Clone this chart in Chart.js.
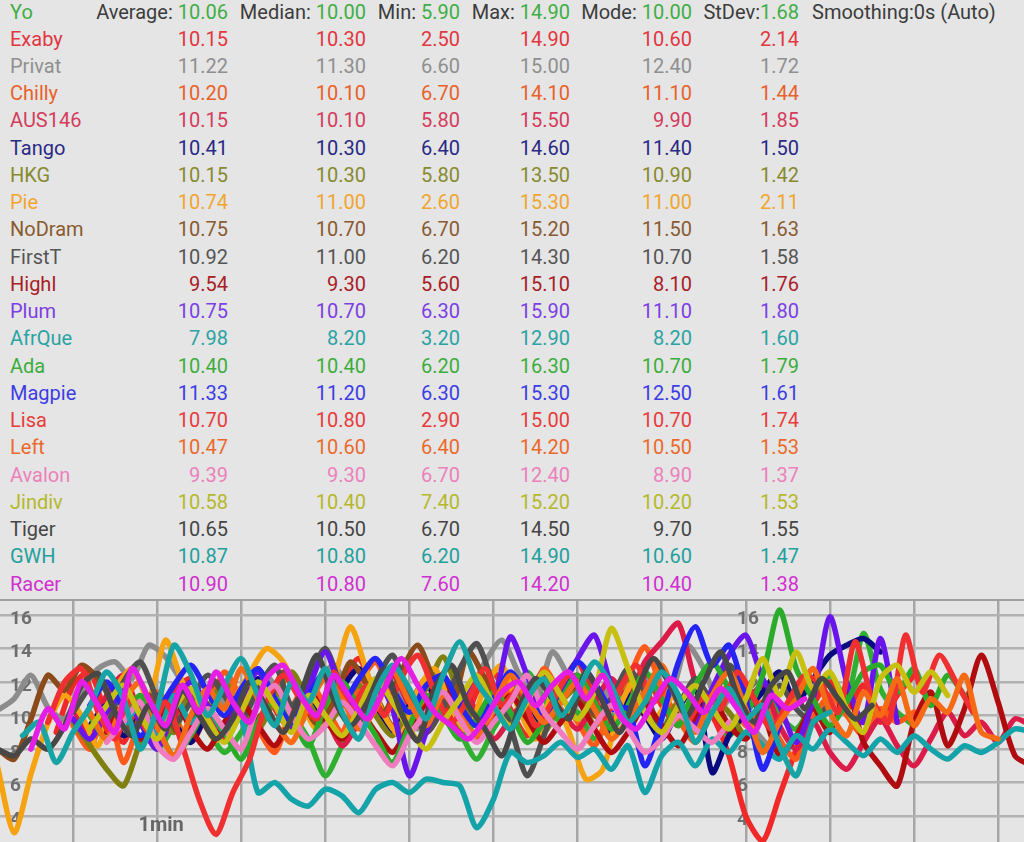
<!DOCTYPE html>
<html lang="en">
<head>
  <meta charset="UTF-8" />
  <title>Lap stats</title>
  <script src="https://cdn.jsdelivr.net/npm/chart.js"></script>
  <style>
    html, body { margin: 0; padding: 0; }
    body { width: 1024px; height: 842px; background: #e5e5e5; overflow: hidden; position: relative;
           font-family: Roboto, "Noto Sans", sans-serif; font-size: 20px; }
    .cell { position: absolute; height: 27px; line-height: 27px; white-space: nowrap; }
    .r { text-align: right; }
    .lbl { color: #3c3c3c; }
    #chartBox { position: absolute; left: 0; top: 599px; width: 1024px; height: 241px; border-top: 2px solid #9e9e9e; }
  </style>
</head>
<body>
  <div id="table"></div>
  <div id="chartBox"><canvas id="lapChart"></canvas></div>

  <script>
    // table values
    const names   = ["Exaby","Privat","Chilly","AUS146","Tango","HKG","Pie","NoDram","FirstT","Highl","Plum","AfrQue","Ada","Magpie","Lisa","Left","Avalon","Jindiv","Tiger","GWH","Racer"];
    const avgs    = ["10.15","11.22","10.20","10.15","10.41","10.15","10.74","10.75","10.92","9.54","10.75","7.98","10.40","11.33","10.70","10.47","9.39","10.58","10.65","10.87","10.90"];
    const medians = ["10.30","11.30","10.10","10.10","10.30","10.30","11.00","10.70","11.00","9.30","10.70","8.20","10.40","11.20","10.80","10.60","9.30","10.40","10.50","10.80","10.80"];
    const mins    = ["2.50","6.60","6.70","5.80","6.40","5.80","2.60","6.70","6.20","5.60","6.30","3.20","6.20","6.30","2.90","6.40","6.70","7.40","6.70","6.20","7.60"];
    const maxs    = ["14.90","15.00","14.10","15.50","14.60","13.50","15.30","15.20","14.30","15.10","15.90","12.90","16.30","15.30","15.00","14.20","12.40","15.20","14.50","14.90","14.20"];
    const modes   = ["10.60","12.40","11.10","9.90","11.40","10.90","11.00","11.50","10.70","8.10","11.10","8.20","10.70","12.50","10.70","10.50","8.90","10.20","9.70","10.60","10.40"];
    const stdevs  = ["2.14","1.72","1.44","1.85","1.50","1.42","2.11","1.63","1.58","1.76","1.80","1.60","1.79","1.61","1.74","1.53","1.37","1.53","1.55","1.47","1.38"];

    // header row (own driver)
    const myName = "Yo";
    const headLabels = ["Average: ", "Median: ", "Min: ", "Max: ", "Mode: ", "StDev:"];
    const headValues = ["10.06", "10.00", "5.90", "14.90", "10.00", "1.68"];
    const smoothingText = "Smoothing:0s (Auto)";

    // chart ticks
    const yTickValues = [4, 6, 8, 10, 12, 14, 16];
    const xGridValues = [50, 60, 70, 80, 90, 100, 110, 120, 130, 140, 150, 160];
    const xLabelValues = [60];
    const xLabelTexts = ["1min"];

    // lap values, one sample every 2 s from each start time
    const yoStart = 50;
    const yoVals = [9.8,8.4,10.0,11.2,9.6,8.0,9.4,10.8,9.2,7.8,9.0,10.6,11.8,10.2,8.6,6.4,8.2,9.8,11.0,9.4,10.6,12.2,10.4,9.0,7.4,9.2,10.8,12.6,11.0,9.6,10.2,8.6,9.8,11.6,10.4,9.0,10.6,12.0,10.2,8.8,10.4,11.8,10.0,9.2,10.8,12.4,11.0,14.9,11.6,10.2,9.4];
    const exabyStart = 48;
    const exabyVals = [9.0,11.8,12.6,10.0,8.4,10.8,9.6,11.4,12.2,10.0,8.6,11.0,12.8,10.4,9.2,11.6,10.2,12.0,13.4,11.2,9.4,10.6,12.2,10.8,9.0,11.4,12.6,10.4,8.8,10.2,11.8,13.2,11.0,9.6,11.4,12.4,10.6,9.4,11.0,10.0,7.6,4.0,2.5,5.2,8.0,10.6,12.0,10.4,11.8,9.6,11.2,12.4];
    const privatStart = 41;
    const privatVals = [10.3,11.0,12.4,10.5,9.8,11.5,12.8,13.2,12.2,14.2,13.5,12.0,10.8,11.6,9.8,10.5,12.3,11.0,9.5,11.8,13.0,11.2,10.0,12.4,11.0,9.2,10.8,12.0,11.4,13.2,14.5,12.5,11.0,13.8,12.2,10.2,11.6,9.8,10.9,12.4,11.2,14.2,12.8,10.5,11.5,9.2,8.0];
    const chillyStart = 50;
    const chillyVals = [9.4,8.0,10.6,7.2,9.8,11.4,10.0,8.4,10.2,12.6,11.0,9.2,7.8,10.4,12.0,10.6,9.0,11.8,13.2,11.0,9.4,10.8,12.4,10.2,8.6,9.8,11.6,10.4,12.8,11.2,9.6,8.2,10.6,12.2,14.1,11.6,9.8,8.4,10.2,11.8,9.4,10.8,8.6,7.4,9.8,11.2,10.0,8.8,10.4,9.6,10.2];
    const aus146Start = 50;
    const aus146Vals = [10.4,9.0,11.2,12.4,10.0,8.4,9.8,11.6,10.2,8.8,10.6,12.0,10.8,9.2,11.4,10.0,8.2,9.6,11.0,12.4,10.6,9.0,10.4,11.8,10.2,8.6,9.8,11.2,12.6,10.4,9.2,10.8,12.2,11.0,13.2,14.4,15.5,12.0,10.4,9.0,10.6,11.8,9.4,8.0,9.6,7.8,6.8,8.4,9.8,8.2,7.0,8.6,10.2,8.8,9.6,8.4,9.8,9.4];
    const tangoStart = 52;
    const tangoVals = [9.4,10.6,8.8,10.0,11.2,9.6,8.4,10.2,11.4,10.0,12.2,10.6,9.2,10.8,9.4,11.6,12.8,10.4,9.0,10.6,11.8,10.2,8.8,9.8,11.0,12.4,10.6,9.4,10.8,12.0,10.4,9.0,11.2,10.0,8.6,10.4,11.8,6.6,8.8,10.2,11.4,12.6,10.8,12.2,13.6,14.2,14.6,13.8];
    const hkgStart = 50;
    const hkgVals = [9.6,8.2,6.8,5.8,8.4,10.2,9.0,11.4,10.6,12.0,10.4,9.2,11.0,12.6,10.8,9.4,10.6,11.8,10.0,8.8,10.4,11.6,13.5,11.2,9.8,10.6,12.0,10.2,9.0,10.8,11.6,9.4,10.6,12.2,10.4,9.2,10.8,9.6,11.0,10.2,8.8,9.8];
    const pieStart = 41;
    const pieVals = [7.0,3.0,6.5,9.5,11.2,10.0,8.2,11.5,12.8,11.0,14.5,12.0,10.2,8.5,10.8,12.5,14.0,13.2,11.0,9.2,12.0,15.3,12.5,10.0,8.8,11.5,12.8,10.5,9.0,11.8,13.0,10.4,8.6,11.2,9.0,6.2,6.8,10.5,12.2,9.8,11.0];
    const noDramStart = 41;
    const noDramVals = [8.0,7.4,9.8,12.4,11.5,13.0,12.2,10.5,9.0,11.2,10.0,8.8,10.6,12.0,11.0,9.6,10.4,12.6,11.2,9.5,10.8,13.2,11.8,10.2,12.6,14.2,12.0,10.5,13.8,12.2,10.6,11.4,9.2,10.8,12.0,10.5,9.6];
    const firstTStart = 50;
    const firstTVals = [10.2,11.5,9.6,12.0,13.2,11.0,9.5,10.8,12.4,11.2,9.8,11.6,13.0,10.6,12.2,14.0,11.5,9.6,12.0,13.6,11.0,9.0,10.5,12.8,14.3,11.8,9.4,6.4,8.8,11.6,12.4,10.2,11.0,12.8,11.4,9.2,10.6,12.2,11.0,13.0,11.6,10.2,11.8,10.4,9.6,10.8];
    const highlStart = 54;
    const highlVals = [9.0,10.4,8.6,9.8,11.0,9.2,8.0,9.6,10.8,9.4,8.2,10.0,11.6,9.8,8.6,10.2,9.0,7.8,9.4,10.6,12.4,10.0,8.8,9.6,11.2,9.8,8.4,9.6,10.8,9.2,7.8,9.0,10.6,9.4,8.2,9.8,11.0,9.4,8.6,10.0,7.6,8.8,10.4,9.0,11.6,8.4,7.0,5.8,9.6,11.4,8.2,10.4,13.6,10.8,7.6,7.0];
    const plumStart = 50;
    const plumVals = [9.8,8.6,10.2,11.4,9.6,8.0,10.4,12.0,10.6,9.2,11.0,12.6,10.8,9.4,11.6,13.8,11.4,10.0,12.2,10.4,6.4,9.0,11.2,10.6,12.0,11.0,14.7,12.4,10.2,11.6,13.4,14.8,11.8,10.0,11.4,12.6,10.8,9.4,11.6,13.6,14.8,12.2,10.6,8.4,11.0,15.9,12.0,9.6,14.6,9.6];
    const afrQueStart = 56;
    const afrQueVals = [9.4,10.6,8.8,11.2,9.6,10.4,9.0,9.8,5.4,6.0,5.0,4.6,5.6,5.2,4.2,5.6,6.0,5.4,6.2,6.0,5.8,3.3,5.0,7.8,7.2,7.6,8.4,7.5,8.0,6.8,8.2,5.4,7.6,8.4,7.0,8.6,7.8,9.0,8.2,7.4,8.8,8.0,9.2,8.4,7.6,8.6,7.8,8.8,8.0,7.4,8.2,7.8,8.4,9.2,9.0];
    const adaStart = 52;
    const adaVals = [10.0,8.6,9.8,11.2,9.4,7.6,8.8,10.4,9.0,7.4,9.6,11.0,9.8,8.2,10.6,12.0,10.4,8.8,7.2,9.4,11.2,10.0,8.6,9.8,11.4,10.2,8.4,9.6,11.0,12.4,10.8,9.2,10.6,12.6,11.0,9.4,11.8,13.2,11.6,10.2,12.4,16.3,12.8,11.0,9.4,10.8,12.6,13.0,11.4,12.8,10.6,12.4,11.2];
    const magpieStart = 52;
    const magpieVals = [10.6,12.0,10.4,8.8,10.2,11.8,13.0,11.4,10.0,11.6,12.8,11.0,9.6,11.2,12.6,10.8,12.2,13.4,11.6,10.2,11.8,12.4,10.6,9.4,11.0,12.6,11.2,10.0,11.6,13.2,12.0,10.4,10.4,7.0,9.8,13.2,15.3,13.0,14.2,11.0,6.8,9.4];
    const lisaStart = 47;
    const lisaVals = [9.6,12.0,12.8,10.2,8.6,11.0,9.0,10.8,8.2,5.0,2.9,5.4,7.4,10.8,12.4,11.0,9.8,12.6,10.4,11.8,10.0,12.2,13.6,11.4,9.6,11.0,12.8,10.6,11.6,9.4,10.8,12.4,11.2,9.8,11.6,13.0,10.8,12.0,9.6,11.2,10.4,12.6,11.0,9.2,10.8,12.4,11.8,10.2,14.4,11.0,9.6,14.8,11.4,13.6,12.0,10.2];
    const leftStart = 52;
    const leftVals = [10.2,8.6,10.8,12.0,9.4,7.6,10.0,11.6,10.4,12.8,11.0,9.6,8.4,10.6,12.2,11.0,9.2,10.4,12.6,10.8,9.4,11.2,10.0,8.8,10.6,12.4,11.0,9.6,10.8,12.0,10.4,8.6,9.8,11.4,13.0,10.6,9.0,11.2,12.6,10.4,7.8,9.6,11.0,12.8,10.2,8.8,11.4,10.0,12.2,9.4,11.0,10.2,12.4,9.0,8.6];
    const avalonStart = 54;
    const avalonVals = [8.4,9.6,10.8,8.2,7.4,9.0,10.4,9.2,8.0,10.6,11.8,10.0,8.6,9.4,10.8,9.6,8.2,7.0,8.8,10.2,11.4,9.8,8.4,9.6,10.8,12.4,10.2,9.0,8.0,9.4,10.6,9.2,7.8,8.6,10.0,9.2,8.4,9.6];
    const jindivStart = 52;
    const jindivVals = [9.2,10.6,11.8,10.0,8.6,10.4,11.6,9.8,8.4,10.2,12.0,10.6,9.0,11.2,10.0,8.8,10.4,12.2,10.8,9.2,8.0,9.6,11.0,12.4,10.6,9.4,10.8,12.6,11.2,9.8,11.4,15.2,12.8,10.2,9.0,10.6,11.8,10.4,9.2,11.0,13.4,11.2,13.8,11.6,12.6,10.4,9.0,12.2,13.0,11.4,12.6,11.2];
    const tigerStart = 41;
    const tigerVals = [8.0,7.6,8.6,8.0,9.4,11.8,12.5,10.2,8.8,10.6,9.2,11.5,10.0,8.6,9.8,12.0,10.5,9.0,11.2,13.6,11.0,9.4,10.8,12.8,10.2,8.5,11.6,13.0,10.6,9.2,7.6,10.4,12.2,11.0,9.8,12.6,10.8,9.0,11.4,13.4,11.8,10.0,12.0,13.8,11.2,9.6,11.8,12.6,10.4,12.2,11.0,9.8,10.6];
    const gwhStart = 44;
    const gwhVals = [8.8,9.6,7.2,9.0,10.5,12.6,11.0,8.0,10.4,14.2,12.5,10.0,11.8,13.4,11.2,9.4,12.0,10.8,12.8,10.2,8.6,11.4,13.0,11.6,9.8,12.4,14.4,12.0,10.6,9.2,11.0,12.2,10.0,11.4,13.2,11.8,9.6,10.8,12.6,11.2,8.4,10.2,11.6,9.8,10.6,8.2,6.4,9.6,10.2];
    const racerStart = 45;
    const racerVals = [8.0,10.4,9.2,12.0,10.6,9.0,12.8,11.0,9.4,11.8,10.2,12.6,10.8,9.6,12.2,13.0,11.2,10.0,12.4,11.0,9.8,11.6,13.4,11.8,10.2,9.4,8.6,9.8,11.4,12.0,10.6,11.8,12.6,11.0,12.4,10.0,9.2,10.8,12.2,11.4,10.2,11.6,10.4,9.0,11.2,10.4,11.0];

    const seriesStarts = [yoStart, exabyStart, privatStart, chillyStart, aus146Start, tangoStart, hkgStart, pieStart, noDramStart, firstTStart, highlStart, plumStart, afrQueStart, adaStart, magpieStart, lisaStart, leftStart, avalonStart, jindivStart, tigerStart, gwhStart, racerStart];
    const seriesValues = [yoVals, exabyVals, privatVals, chillyVals, aus146Vals, tangoVals, hkgVals, pieVals, noDramVals, firstTVals, highlVals, plumVals, afrQueVals, adaVals, magpieVals, lisaVals, leftVals, avalonVals, jindivVals, tigerVals, gwhVals, racerVals];
    const sampleStep = 2;

    // colours: header first, then one per table row
    const textColors = ["#3fae44","#e23640","#8f8f8f","#e8612a","#d43c5c","#2a2a86","#878a2e","#f0a530","#8a5a30","#555555","#a82026","#7b3fe4","#2aa3a3","#3cad3c","#3d3de4","#e63c3c","#ea6a2c","#ec80bc","#b5b82a","#454545","#22a09c","#d030d0"];
    const lineColors = ["#30b030","#f02828","#8c8c8c","#ff5a1a","#dc1c48","#0a0a80","#808010","#f5a310","#8b4a1a","#505050","#b00c10","#6a14ec","#14a3a8","#2aac2a","#2424f4","#f03030","#f56a14","#f07cc0","#c8c010","#474747","#18a4a4","#e41ee4"];

    // ---- table ----
    const table = document.getElementById("table");
    const rowTop = i => -1.5 + i * 27.24;
    const colRight = [228, 366, 460, 570, 692, 799];

    function addCell(html, top, opts) {
      const d = document.createElement("div");
      d.className = "cell" + (opts.right !== undefined ? " r" : "");
      d.style.top = top + "px";
      if (opts.right !== undefined) d.style.right = (1024 - opts.right) + "px";
      else d.style.left = opts.left + "px";
      if (opts.color) d.style.color = opts.color;
      d.innerHTML = html;
      table.appendChild(d);
    }

    addCell(myName, rowTop(0), { left: 10, color: textColors[0] });
    headLabels.forEach((lab, c) => {
      addCell(`<span class="lbl">${lab}</span><span style="color:${textColors[0]}">${headValues[c]}</span>`, rowTop(0), { right: colRight[c] });
    });
    addCell(smoothingText, rowTop(0), { left: 812, color: "#3c3c3c" });

    names.forEach((n, i) => {
      const top = rowTop(i + 1);
      const col = textColors[i + 1];
      addCell(n, top, { left: 10, color: col });
      [avgs, medians, mins, maxs, modes, stdevs].forEach((arr, c) => {
        addCell(arr[i], top, { right: colRight[c], color: col });
      });
    });

    // ---- chart ----
    const allNames = [myName].concat(names);
    const datasets = allNames.map((n, i) => ({
      label: n,
      data: seriesValues[i].map((v, k) => ({ x: seriesStarts[i] + k * sampleStep, y: v })),
      borderColor: lineColors[i],
      borderWidth: 5.5,
      pointRadius: 0,
      tension: 0.25,
      borderJoinStyle: "round",
      borderCapStyle: "round",
      fill: false
    })).reverse(); // last table row ends up on top

    const tickText = {
      id: "tickText",
      beforeDatasetsDraw(chart) {
        const { ctx, scales } = chart;
        ctx.save();
        ctx.fillStyle = "#6e6e6e";
        ctx.font = "bold 19px Roboto, sans-serif";
        ctx.textBaseline = "middle";
        ctx.textAlign = "left";
        yTickValues.forEach(v => {
          const y = scales.y.getPixelForValue(v) + 4;
          ctx.fillText(String(v), 10, y);
          ctx.fillText(String(v), 737, y);
        });
        ctx.fillStyle = "#666666";
        ctx.font = "bold 20px Roboto, sans-serif";
        ctx.textAlign = "center";
        xLabelValues.forEach((v, i) => {
          ctx.fillText(xLabelTexts[i], scales.x.getPixelForValue(v) + 4, scales.y.getPixelForValue(4) + 10);
        });
        ctx.restore();
      }
    };

    new Chart(document.getElementById("lapChart"), {
      type: "line",
      data: { datasets },
      options: {
        responsive: true,
        maintainAspectRatio: false,
        animation: false,
        layout: { padding: 0 },
        plugins: { legend: { display: false }, tooltip: { enabled: false } },
        scales: {
          x: {
            type: "linear",
            min: 41.32,
            max: 163.08,
            afterBuildTicks: s => { s.ticks = xGridValues.map(v => ({ value: v })); },
            ticks: { display: false },
            grid: { color: "#a6a6a6", lineWidth: 2.5, drawTicks: false },
            border: { display: false }
          },
          y: {
            min: 2.45,
            max: 16.84,
            afterBuildTicks: s => { s.ticks = yTickValues.map(v => ({ value: v })); },
            ticks: { display: false },
            grid: { color: "#b2b2b2", lineWidth: 2.5, drawTicks: false },
            border: { display: false }
          }
        }
      },
      plugins: [tickText]
    });
  </script>
</body>
</html>
